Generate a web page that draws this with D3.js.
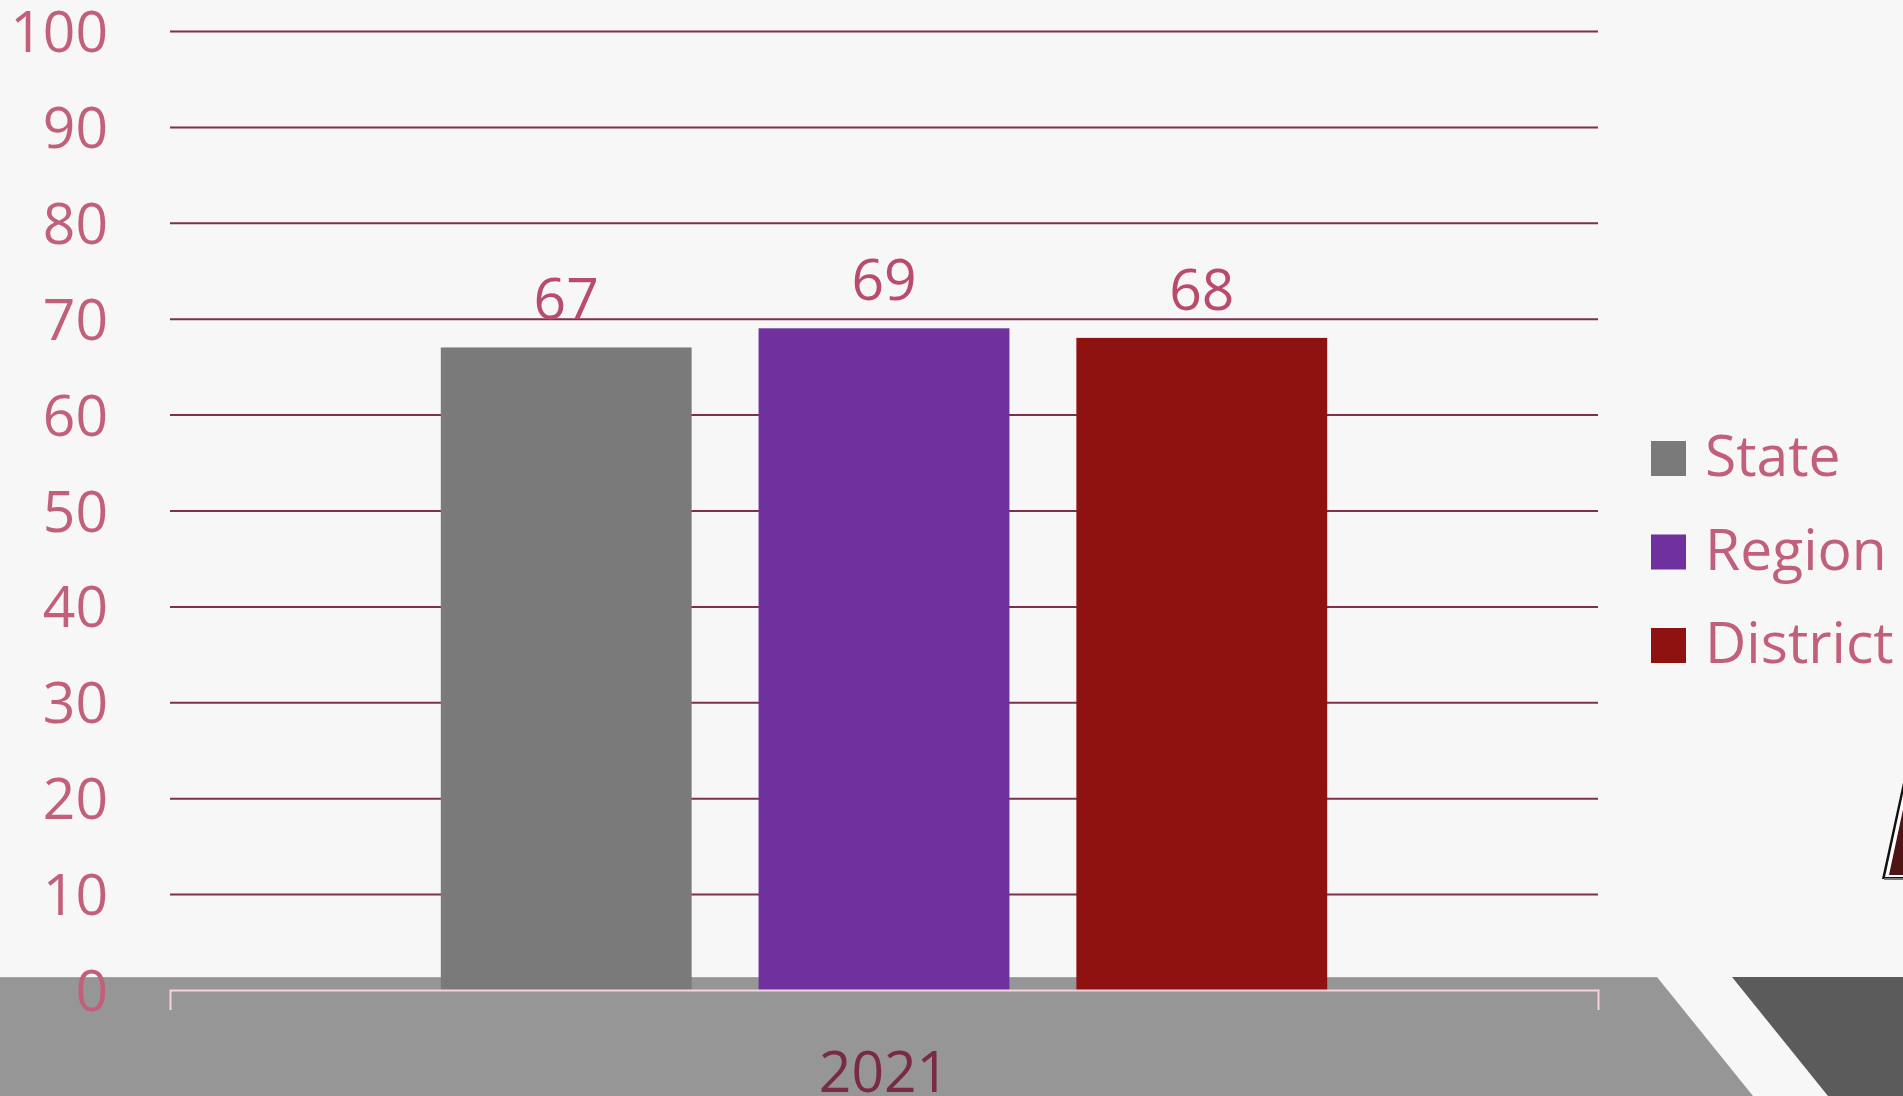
<!DOCTYPE html>
<html>
<head>
<meta charset="utf-8">
<script src="https://cdn.jsdelivr.net/npm/d3@7"></script>
<style>
    html, body { margin: 0; padding: 0; background: #f7f7f7; overflow: hidden; }
    text { font-family: 'Open Sans', 'Noto Sans', sans-serif; }
</style>
</head>
<body>
<div class="canvas"></div>
<script>
const categories = ['2021'];
const seriesNames = ['State', 'Region', 'District'];
const seriesValues = [67, 69, 68];
const seriesColours = ['#7a7a7a', '#6f319e', '#8e1210'];
const yTickLabels = [0, 10, 20, 30, 40, 50, 60, 70, 80, 90, 100];

const dims = { width: 1903, height: 1096, left: 170, right: 1598, top: 31, bottom: 990, fontSize: 57 };
const pink = '#c2607c';

const svg = d3.select('.canvas')
    .append('svg')
    .attr('width', dims.width)
    .attr('height', dims.height);

svg.append('rect')
    .attr('width', dims.width)
    .attr('height', dims.height)
    .attr('fill', '#f7f7f7');

// bottom bands (slide decoration)
svg.append('polygon')
    .attr('points', `0,977 1657,977 1753,1096 0,1096`)
    .attr('fill', '#969696');
svg.append('line')
    .attr('x1', 0).attr('x2', 1657).attr('y1', 977.5).attr('y2', 977.5)
    .attr('stroke', '#a4a4a4').attr('stroke-width', 1);
svg.append('polygon')
    .attr('points', `1732,977 1903,977 1903,1096 1828,1096`)
    .attr('fill', '#5b5b5b');

// corner triangle
svg.append('polygon')
    .attr('points', '1882,879 1904,778 1904,879')
    .attr('fill', '#111');
svg.append('polygon')
    .attr('points', '1885,877 1906,780 1906,877')
    .attr('fill', '#fff');
svg.append('polygon')
    .attr('points', '1889,875 1908,786 1908,875')
    .attr('fill', '#4e1515');
svg.append('line')
    .attr('x1', 1884).attr('x2', 1903).attr('y1', 879).attr('y2', 879)
    .attr('stroke', '#777').attr('stroke-width', 2);

const y = d3.scaleLinear()
    .domain([0, 100])
    .range([dims.bottom, dims.top]);

const x0 = d3.scaleBand()
    .domain(categories)
    .range([dims.left, dims.right])
    .paddingInner(0.234)
    .paddingOuter(0.234);

const x1 = d3.scaleBand()
    .domain(seriesNames)
    .range([0, x0.bandwidth()])
    .paddingInner(0.2107);

const colour = d3.scaleOrdinal(seriesNames, seriesColours);

// gridlines + labels
const yAxis = svg.append('g')
    .attr('transform', `translate(${dims.left},0)`)
    .call(d3.axisLeft(y)
        .tickValues(yTickLabels)
        .tickSize(-(dims.right - dims.left))
        .tickPadding(62));

yAxis.select('.domain').remove();
yAxis.selectAll('.tick line')
    .attr('stroke', '#7d3150')
    .attr('stroke-width', 2)
    .attr('opacity', d => d === 0 ? 0 : 1);
yAxis.selectAll('.tick text')
    .attr('fill', pink)
    .attr('font-size', dims.fontSize)
    .attr('dy', '0.36em');

// bars
const rows = seriesNames.map((name, i) => ({ category: categories[0], name: name, value: seriesValues[i] }));

const groups = svg.append('g');

groups.selectAll('rect')
    .data(rows)
    .enter()
    .append('rect')
        .attr('x', d => x0(d.category) + x1(d.name))
        .attr('y', d => y(d.value))
        .attr('width', x1.bandwidth())
        .attr('height', d => y(0) - y(d.value))
        .attr('fill', d => colour(d.name));

groups.selectAll('.value')
    .data(rows)
    .enter()
    .append('text')
        .attr('class', 'value')
        .attr('x', d => x0(d.category) + x1(d.name) + x1.bandwidth() / 2)
        .attr('y', d => y(d.value) - 28)
        .attr('text-anchor', 'middle')
        .attr('font-size', dims.fontSize)
        .attr('fill', '#b94b6d')
        .text(d => d.value);

// x axis
const xAxis = svg.append('g')
    .attr('transform', `translate(0,${dims.bottom})`)
    .call(d3.axisBottom(x0).tickSizeInner(0).tickSizeOuter(20));

xAxis.select('.domain')
    .attr('stroke', '#f2d3de')
    .attr('stroke-width', 2);
xAxis.selectAll('.tick line').remove();
xAxis.selectAll('.tick text')
    .attr('y', 102)
    .attr('dy', null)
    .attr('font-size', dims.fontSize)
    .attr('fill', '#7b2a45');

// legend
const legend = svg.append('g')
    .attr('transform', 'translate(1651,441)');

const items = legend.selectAll('g')
    .data(seriesNames)
    .enter()
    .append('g')
    .attr('transform', (d, i) => `translate(0,${i * 93.5})`);

items.append('rect')
    .attr('width', 35)
    .attr('height', 35)
    .attr('fill', d => colour(d));

items.append('text')
    .attr('x', 54)
    .attr('y', 35)
    .attr('font-size', dims.fontSize)
    .attr('fill', pink)
    .text(d => d);
</script>
</body>
</html>
